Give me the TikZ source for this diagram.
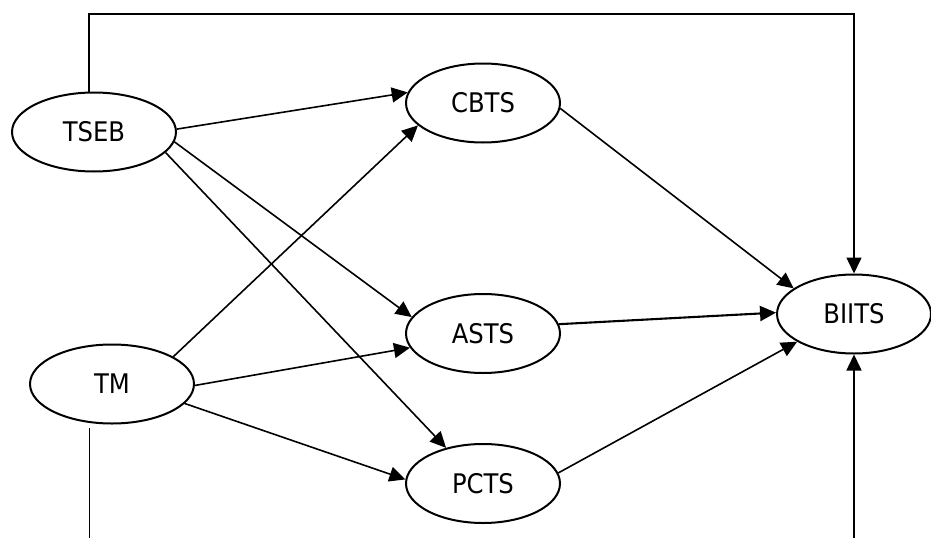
\documentclass[tikz,border=0pt]{standalone}
\usepackage{fontspec}
\setmainfont{DejaVu Sans Condensed}
\usetikzlibrary{arrows.meta,shapes.geometric}
\begin{document}
\begin{tikzpicture}[x=1pt,y=-1pt,
  ell/.style={draw, ellipse, line width=2pt, inner sep=0pt, font=\fontsize{27}{30}\selectfont},
  small/.style={ell, minimum width=154pt, minimum height=79pt},
  big/.style={ell, minimum width=164pt, minimum height=79pt},
  arr/.style={line width=1.6pt, -{Triangle[length=16pt,width=15pt]}},
  plain/.style={line width=1.6pt}]
\useasboundingbox (0,0) rectangle (931,538);
\node[big]   (TSEB)  at (94,132)   {TSEB};
\node[big]   (TM)    at (112,384)  {TM};
\node[small] (CBTS)  at (483,103)  {CBTS};
\node[small] (ASTS)  at (483,333.5){ASTS};
\node[small] (PCTS)  at (483,483.5){PCTS};
\node[small] (BIITS) at (854,314)  {BIITS};
\coordinate (topline) at (0,14);
\coordinate (bottom) at (0,538);
% top feedback line
\draw[arr] (TSEB.97) -- (TSEB.97 |- topline) -| (BIITS.north);
% bottom lines
\draw[plain] ([yshift=-5pt]TM.-120) -- (TM.-120 |- bottom);
\draw[arr] (BIITS.south |- bottom) -- (BIITS.south);
% TSEB arrows
\draw[arr] (TSEB.2) -- (CBTS.172.7);
\draw[arr] (TSEB.-7.7) -- (ASTS.167.8);
\draw[arr] (TSEB.-16.3) -- (PCTS.136.8);
% TM arrows
\draw[arr] (TM.24.3) -- (CBTS.199.8);
\draw[arr] (TM.-1.4) -- (ASTS.191.8);
\draw[arr] (TM.-15.9) -- (PCTS.177.5);
% to BIITS
\draw[arr] (CBTS.-4.3) -- (BIITS.157.2);
\draw[arr, line width=2.1pt] (ASTS.7.2) -- (BIITS.179.3);
\draw[arr] (PCTS.8.7) -- (BIITS.206.2);
\end{tikzpicture}
\end{document}
